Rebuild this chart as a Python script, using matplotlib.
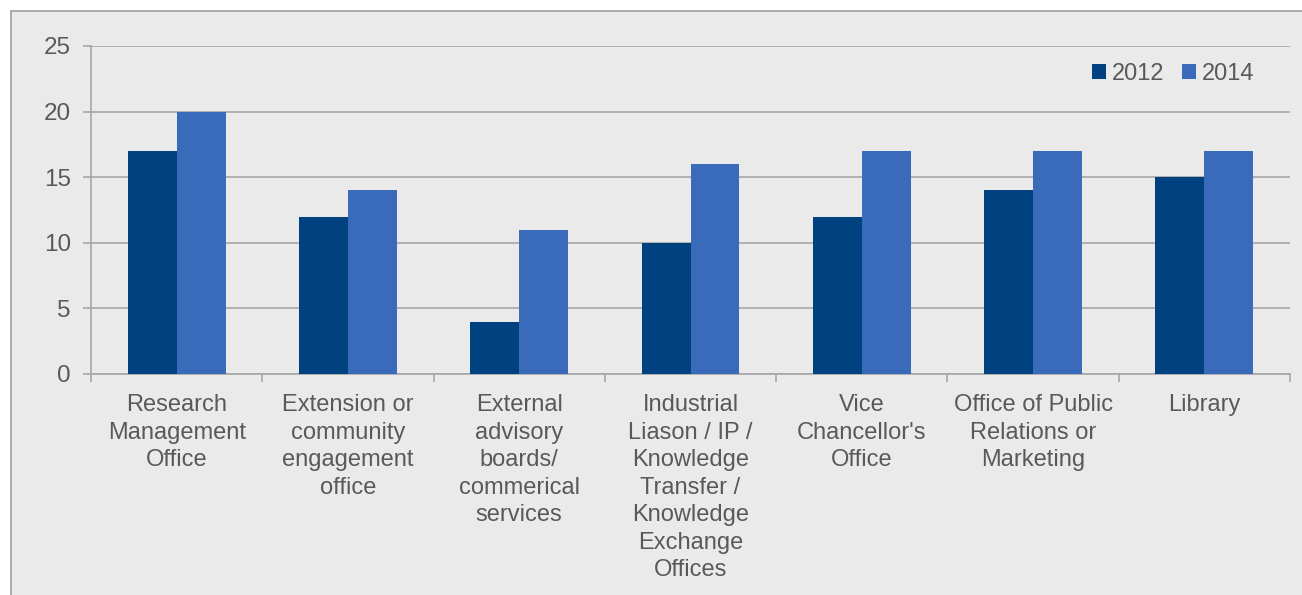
import matplotlib
matplotlib.use("Agg")
import matplotlib.pyplot as plt
import numpy as np
from matplotlib.patches import Rectangle

categories = ["Research\nManagement\nOffice",
              "Extension or\ncommunity\nengagement\noffice",
              "External\nadvisory\nboards/\ncommerical\nservices",
              "Industrial\nLiason / IP /\nKnowledge\nTransfer /\nKnowledge\nExchange\nOffices",
              "Vice\nChancellor's\nOffice",
              "Office of Public\nRelations or\nMarketing",
              "Library"]
series_names = ["2012", "2014"]
values_2012 = [17, 12, 4, 10, 12, 14, 15]
values_2014 = [20, 14, 11, 16, 17, 17, 17]
yticks = [0, 5, 10, 15, 20, 25]

W, H = 1302, 595
fig = plt.figure(figsize=(W / 100, H / 100), dpi=100)
fig.patch.set_facecolor("white")
plt.rcParams['font.family'] = ['Liberation Sans', 'DejaVu Sans']

# outer chart area border
fig.patches.append(Rectangle((11 / W, -0.1), 1.2, 1 - 11 / H + 0.1, transform=fig.transFigure,
                             facecolor="#EAEAEA", edgecolor="#A0A0A0", linewidth=1.2, zorder=-10))

left, right = 91 / W, 1290 / W
top, bottom = 1 - 46 / H, 1 - 374 / H
ax = fig.add_axes([left, bottom, right - left, top - bottom])
ax.set_facecolor("none")

c_dark = "#00427F"
c_light = "#3A6BBA"
text_c = "#595959"
grid_c = "#A6A6A6"
fs = 17

x = np.arange(len(categories))
bw = 0.286
ax.bar(x - bw / 2, values_2012, width=bw, color=c_dark, label=series_names[0], zorder=3)
ax.bar(x + bw / 2, values_2014, width=bw, color=c_light, label=series_names[1], zorder=3)

ax.set_xlim(-0.5, len(categories) - 0.5)
ax.set_ylim(0, 25)
ax.set_yticks(yticks)
ax.yaxis.grid(True, color=grid_c, linewidth=1.2, zorder=1)
ax.set_axisbelow(True)

for s in ["top", "right"]:
    ax.spines[s].set_visible(False)
for s in ["left", "bottom"]:
    ax.spines[s].set_color(grid_c)
    ax.spines[s].set_linewidth(1.2)

ax.tick_params(axis="y", colors=grid_c, labelcolor=text_c, labelsize=17.5, length=5.8, width=1.2, pad=8.6)
ax.set_xticks(np.arange(-0.5, len(categories), 1.0))
ax.set_xticklabels([])
ax.tick_params(axis="x", colors=grid_c, length=6, width=1.2)

for i, c in enumerate(categories):
    ax.text(i, -0.062, c, transform=ax.get_xaxis_transform(), ha="center", va="top",
            fontsize=fs, color=text_c, linespacing=1.32)

leg = ax.legend(loc="upper right", bbox_to_anchor=(0.988, 1.012), ncol=2, frameon=False,
                fontsize=fs, labelcolor=text_c, handlelength=0.6, handleheight=0.6,
                handletextpad=0.25, columnspacing=0.72)

fig.savefig("out.png", dpi=100, facecolor=fig.get_facecolor())
